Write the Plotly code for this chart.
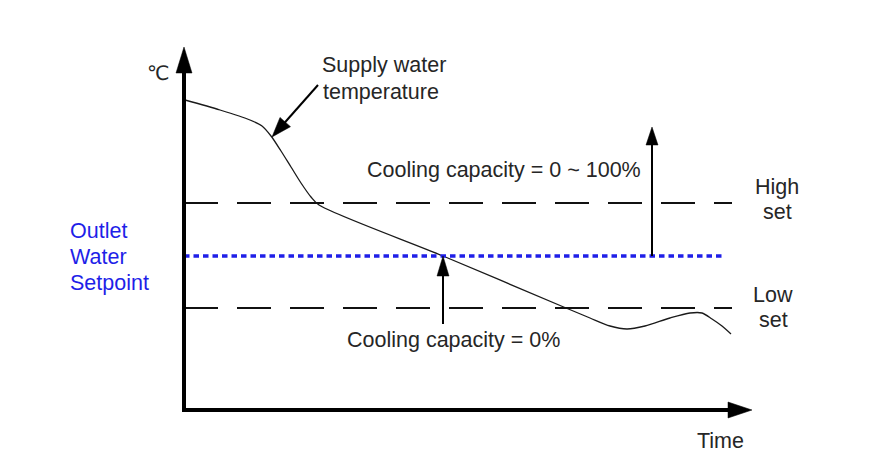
import plotly.graph_objects as go
import math

W, H = 879, 467

# Supply water temperature curve (pixel-space diagram coordinates)
curve_x = [185, 220, 250, 262, 271, 281, 291, 301, 311, 319, 443, 566, 590, 610, 627, 645, 670, 690, 702, 712, 722, 731]
curve_y = [100, 110, 120, 126, 136, 151, 167, 183, 197, 205, 256, 308, 318, 326, 329, 326, 318, 313, 313, 319, 326, 334]

# reference lines
high_set_y = 203
low_set_y = 308
setpoint_y = 256
ref_x0, ref_x1 = 184, 732
set_x1 = 725

# arrows: (x_tail, y_tail, x_tip, y_tip, head_len, head_halfwidth, line_width)
arrows = [
    (184, 412, 184, 47, 26, 8, 4),      # y axis
    (182, 410, 752, 410, 24, 8, 4),     # x axis
    (318, 85, 272, 137, 20, 7, 2),      # supply water pointer
    (652, 256, 652, 127, 18, 6, 2),     # cooling 0-100%
    (443, 324, 443, 256, 20, 6, 2),     # cooling 0%
]

fig = go.Figure()

fig.add_trace(go.Scatter(x=curve_x, y=curve_y, mode="lines",
                         line=dict(color="#1a1a1a", width=1.3, shape="spline", smoothing=0.8),
                         hoverinfo="skip", showlegend=False))

for yv in (high_set_y, low_set_y):
    fig.add_trace(go.Scatter(x=[ref_x0, ref_x1], y=[yv, yv], mode="lines",
                             line=dict(color="#111111", width=2, dash="34px,19px"),
                             hoverinfo="skip", showlegend=False))
fig.add_trace(go.Scatter(x=[ref_x0, set_x1], y=[setpoint_y, setpoint_y], mode="lines",
                         line=dict(color="#1f1fe8", width=3.5, dash="5.5px,4px"),
                         hoverinfo="skip", showlegend=False))

shapes = []
for (x0, y0, x1, y1, hl, hw, lw) in arrows:
    dx, dy = x1 - x0, y1 - y0
    L = math.hypot(dx, dy)
    ux, uy = dx / L, dy / L
    px, py = -uy, ux
    bx, by = x1 - ux * hl, y1 - uy * hl
    shapes.append(dict(type="line", xref="x", yref="y", x0=x0, y0=y0,
                       x1=bx + ux * 2, y1=by + uy * 2,
                       line=dict(color="black", width=lw)))
    path = (f"M {x1},{y1} L {bx + px*hw},{by + py*hw} "
            f"L {bx - px*hw},{by - py*hw} Z")
    shapes.append(dict(type="path", xref="x", yref="y", path=path,
                       fillcolor="black", line=dict(color="black", width=0.5)))

FONT = "Liberation Sans, Arial, sans-serif"
TXT = "#262626"
FS = 21.5
ann = []
def text(x, y, s, size=FS, color=TXT, anchor="center", font=FONT):
    ann.append(dict(x=x, y=y, xref="x", yref="y", text=s, showarrow=False,
                    xanchor=anchor, yanchor="middle",
                    font=dict(family=font, size=size, color=color)))

text(158, 73, "℃", size=20, font="DejaVu Sans, sans-serif")
text(320, 65, "Supply water", anchor="left")
text(321, 92, "temperature", anchor="left")
text(504, 170, "Cooling capacity = 0 ~ 100%")
text(453, 340, "Cooling capacity = 0%")
text(777, 187, "High")
text(777, 212, "set")
text(773, 295, "Low")
text(773, 320, "set")
text(68, 231, "Outlet", color="#1f1fe8", anchor="left")
text(68, 257, "Water", color="#1f1fe8", anchor="left")
text(68, 283, "Setpoint", color="#1f1fe8", anchor="left")
text(720, 441, "Time")

fig.update_layout(
    width=W, height=H,
    margin=dict(l=0, r=0, t=0, b=0),
    paper_bgcolor="white", plot_bgcolor="white",
    xaxis=dict(range=[0, W], visible=False, fixedrange=True),
    yaxis=dict(range=[H, 0], visible=False, fixedrange=True),
    shapes=shapes, annotations=ann, showlegend=False,
)

fig.write_html("out.html", config={"displayModeBar": False})
